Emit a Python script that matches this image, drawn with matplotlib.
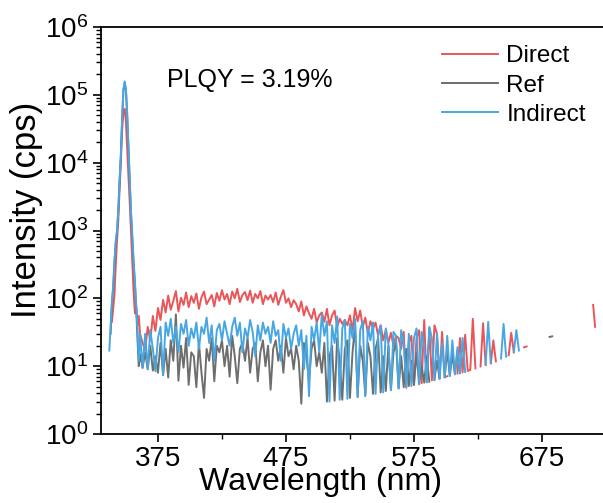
import numpy as np
import matplotlib
matplotlib.use("Agg")
import matplotlib.pyplot as plt
from matplotlib.ticker import LogLocator, NullFormatter

nan = np.nan

# wavelength grid (nm): 1 nm around the excitation peak, 2 nm after, then a few tail points
wl_peak = np.arange(337, 362, 1)
wl_noise = np.arange(363, 662, 2)
wl_tail = [663, 670, 681, 683, 690, 715, 716.5, 722]
wavelength = np.concatenate([wl_peak, wl_noise, wl_tail])

direct = [
    # 337-361
    nan, nan, 45, 70, 110, 300, 700, 1400, 4000, 10000, 30000, 55000, 62000,
    40000, 15000, 6000, 2500, 900, 350, 120, 60, 75, 40, 55, 30,
    # 363-661
    22, 17, 38, 24, 55, 33, 72, 48, 95, 62,
    110, 68, 92, 128, 64, 102, 80, 122, 74, 108,
    86, 118, 70, 104, 126, 82, 96, 112, 76, 120,
    92, 132, 96, 116, 82, 126, 100, 138, 88, 112,
    124, 94, 130, 86, 116, 100, 128, 82, 110, 96,
    112, 88, 122, 80, 106, 132, 86, 100, 74, 94,
    82, 64, 90, 56, 76, 60, 50, 70, 44, 56,
    62, 45, 70, 40, 56, 66, 38, 50, 42, 48,
    40, 56, 34, 72, 46, 66, 38, 52, 30, 46,
    36, 44, 28, 40, 24, 34, 22, 31, 20, 28,
    26, 18, 32, 4.8, 22, 28, 5.3, 26, 34, 5.6,
    48, 5.8, 36, 6.2, 40, 30, 6.6, 32, 6.9, 7.1,
    nan, nan, nan, 7.8, 26, 8.1, 29, 8.5, 8.8, 50,
    9.3, nan, 9.9, 43, 10.4, nan, 11.0, 24, 11.8, nan,
    nan, nan, nan, 14.5, 31, 16, nan, nan, nan, 19,
    # tail
    19.5, nan, nan, nan, nan, 80, 38, nan,
]

ref = [
    nan, 30, 80, 140, 330, 650, 950, 1900, 5200, 12500, 43000, 115000, 150000,
    115000, 48000, 15000, 4800, 1700, 750, 320, 160, 70, 25, 10, 15,
    9.4, 16, 9.0, 20, 8.6, 14, 8.0, 22, 7.4, 18,
    6.8, 24, 12, 58, 6.1, 20, 9.5, 26, 5.3, 16,
    14, 4.9, 22, 8, 3.4, 18, 12, 26, 6, 20,
    16, 24, 10, 20, 7, 28, 14, 5.6, 18, 22,
    12, 26, 8, 18, 22, 6, 16, 24, 10, 20,
    4.5, 18, 24, 12, 20, 8, 26, 14, 18, 9,
    20, 12, 2.8, 22, 14, 6, 18, 24, 10, 16,
    8, 22, 3.0, 14, 20, 3.1, 26, 12, 3.2, 18,
    24, 3.4, 16, 40, 3.5, 20, 12, 3.7, 22, 14,
    3.9, 18, 26, 4.1, 14, 4.3, 20, 4.5, 16, 22,
    4.7, 14, 4.9, 18, 5.1, 12, 5.3, 16, 5.5, 10,
    5.7, 14, 5.9, nan, 6.3, 12, 6.6, nan, 6.9, 17,
    7.2, 15, 7.6, 17, 7.9, nan, nan, nan, nan, nan,
    nan, nan, nan, nan, nan, nan, nan, nan, nan, nan,
    nan, nan, nan, nan, nan, nan, nan, nan, nan, nan,
    nan, nan, 27, 27.5, nan, nan, nan, nan,
]

indirect = [
    17, 40, 90, 150, 350, 700, 1000, 2000, 5500, 13000, 45000, 120000, 158000,
    120000, 50000, 16000, 5000, 1800, 800, 350, 180, 80, 35, 12, 30,
    9.5, 30, 9.0, 34, 18, 8.4, 26, 38, 7.4, 44,
    28, 50, 22, 38, 16, 42, 30, 48, 20, 36,
    26, 44, 18, 38, 30, 52, 22, 40, 12, 34,
    42, 24, 46, 30, 20, 38, 52, 28, 44, 16,
    36, 26, 48, 32, 14, 40, 24, 44, 30, 38,
    22, 46, 28, 34, 12, 42, 26, 36, 18, 30,
    40, 20, 34, 9, 28, 3.6, 38, 24, 44, 16,
    58, 28, 46, 3.0, 40, 22, 54, 3.2, 36, 48,
    3.3, 42, 26, 50, 3.5, 34, 46, 3.6, 38, 24,
    44, 3.9, 30, 40, 4.1, 36, 22, 4.4, 32, 28,
    4.7, 34, 22, 4.9, 30, 5.1, 26, 36, 5.4, 32,
    20, 5.8, 38, 26, 6.2, 30, 6.5, 22, 6.8, 28,
    7.2, 24, 7.6, 19, 7.9, 26, 8.2, nan, nan, nan,
    nan, nan, nan, nan, 10.7, 45, 11.1, nan, nan, nan,
    13, 42, 13.8, nan, nan, 16, 34, 17, nan, nan,
    nan, nan, nan, nan, nan, nan, nan, nan,
]

series = [("Direct", direct, "#EA5558"), ("Ref", ref, "#6E6E6E"),
          ("Indirect", indirect, "#48A7E2")]
x_ticks = [375, 475, 575, 675]
x_minor = [425, 525, 625]

plt.rcParams["font.family"] = ["Liberation Sans", "DejaVu Sans"]
plt.rcParams["mathtext.default"] = "regular"

fig = plt.figure(figsize=(6.03, 5.03), dpi=100)
ax = fig.add_axes([101 / 603, 69 / 503, 508 / 603, 407 / 503])

for name, vals, col in series:
    ax.plot(wavelength, vals, color=col, lw=1.4, label=name)

ax.set_yscale("log")
ax.set_ylim(1, 1e6)
ax.set_xlim(330.5, 330.5 + 508 / 1.28)
ax.set_xticks(x_ticks)
ax.set_xticks(x_minor, minor=True)
ax.yaxis.set_major_locator(LogLocator(base=10, numticks=10))
ax.yaxis.set_minor_locator(LogLocator(base=10, subs=np.arange(2, 10), numticks=20))
ax.yaxis.set_minor_formatter(NullFormatter())

ax.tick_params(which="major", direction="out", length=6, width=1.2,
               labelsize=20, pad=3)
ax.tick_params(which="minor", direction="out", length=3.5, width=1)
for sp in ax.spines.values():
    sp.set_linewidth(1.3)

ax.set_xlabel("Wavelength (nm)", fontsize=23, va="top")
ax.xaxis.set_label_coords(0.433, -0.082)
ax.set_ylabel("Intensity (cps)", fontsize=25, va="center")
ax.yaxis.set_label_coords(-0.146, 0.55)

ax.text(0.292, 0.870, "PLQY = 3.19%", transform=ax.transAxes,
        ha="center", va="center", fontsize=18)

ax.legend(loc="upper left", bbox_to_anchor=(0.671, 0.955), frameon=False,
          fontsize=17.5, handlelength=2.3, handletextpad=0.35,
          labelspacing=0.3, borderpad=0, borderaxespad=0)

fig.savefig("out.png", dpi=100)
